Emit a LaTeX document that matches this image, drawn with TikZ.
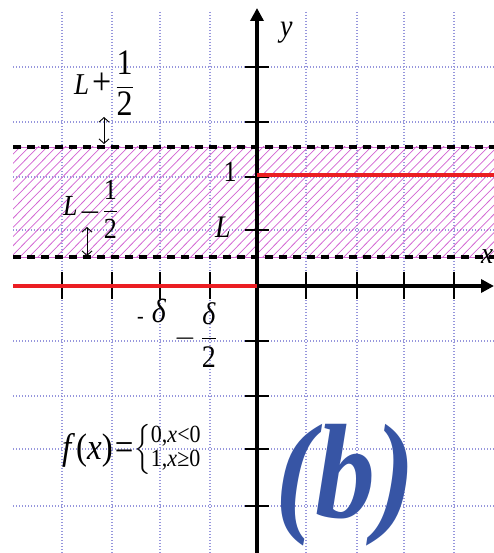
\RequirePackage{fix-cm}
\documentclass[tikz,border=0pt]{standalone}
\usepackage{amsmath}
\usepackage{graphicx}
\usepackage{fontspec}
\setmainfont{Liberation Serif}
\usetikzlibrary{arrows.meta}
\definecolor{gridc}{RGB}{150,150,220}
\definecolor{hatchc}{RGB}{210,100,210}
\definecolor{redc}{RGB}{235,30,35}
\definecolor{bluec}{RGB}{55,85,165}
\newcommand{\vs}[1]{\scalebox{1}[1.12]{#1}}
\newcommand{\fs}[1]{\fontsize{#1}{#1}\selectfont}
\newcommand{\fr}[3]{\ensuremath{\dfrac{\hbox{\fs{#1}#2}}{\hbox{\fs{#1}#3}}}}
\tikzset{
  gridline/.style={gridc, line width=1.2pt, dash pattern=on 1.3pt off 1.7pt},
  axisline/.style={black, line width=3.4pt, -{Triangle[length=13pt,width=13pt]}},
  tickline/.style={black, line width=2.2pt},
  bandline/.style={black, line width=3.3pt, dash pattern=on 8pt off 6pt},
  redline/.style={redc, line width=4pt},
  hatchline/.style={hatchc, line width=0.75pt},
  dblarrow/.style={black, line width=0.9pt, {Straight Barb[length=4.5pt,width=10pt]}-{Straight Barb[length=4.5pt,width=10pt]}},
  lbl/.style={inner sep=0pt},
}
\begin{document}
\begin{tikzpicture}[x=1pt,y=-1pt]
\useasboundingbox (0,0) rectangle (494,553);
% grid
\foreach \x in {62,112,160,210,306,357,404,454} \draw[gridline] (\x,12) -- (\x,553);
\foreach \y in {67,122,177,230,341,396,449,506} \draw[gridline] (13,\y) -- (494,\y);
% hatched band
\begin{scope}
  \clip (13,147) rectangle (494,257);
  \foreach \i in {0,...,70} \draw[hatchline] ({13+9*\i-112},259) -- ({13+9*\i},145);
\end{scope}
\draw[hatchc, line width=0.8pt] (13,147) -- (494,147) (13,257) -- (494,257);
\draw[bandline] (13,147) -- (494,147);
\draw[bandline] (13,257) -- (494,257);
% axes
\coordinate (xs) at (13,286);
\coordinate (xe) at (494,286);
\coordinate (ys) at (257,553);
\coordinate (ye) at (257,8);
\draw[axisline] (xs) -- (xe);
\draw[axisline] (ys) -- (ye);
\foreach \x in {62,112,160,210,306,357,404,454} \draw[tickline] (\x,272) -- (\x,299);
\foreach \y in {67,122,177,230,341,396,449,506} \draw[tickline] (245,\y) -- (269,\y);
% function
\draw[redline] (257,175) -- (494,175);
\draw[redline] (13,286) -- (257,286);
% labels
\node[lbl, anchor=base west] (ylab) at (280,37) {\vs{\fs{28}\itshape y}};
\node[lbl, anchor=base west] (xlab) at (481,263) {\vs{\fs{27}\itshape x}};
\node[lbl] (one) at (230,172) {\vs{\fs{26}1}};
\node[lbl] (Llab) at (223,227) {\vs{\fs{28}\itshape L}};
\node[lbl, anchor=base west] (Lp) at (74,95) {\vs{\fs{27}\textit{L}\hspace{3pt}{\fs{34}+}\hspace{4pt}\fr{32}{1}{2}}};
\node[lbl, anchor=base west] (Lm) at (63,219) {\vs{\fs{26}\raisebox{3pt}{\textit{L}}\,\scalebox{1.25}[1]{–}\,\fr{26}{1}{2}}};
\coordinate (a1t) at (104,117);
\coordinate (a1b) at (104,144);
\coordinate (a2t) at (87,227);
\coordinate (a2b) at (87,256);
\draw[dblarrow] (a1t) -- (a1b);
\draw[dblarrow] (a2t) -- (a2b);
\node[lbl, anchor=base west] (md) at (137,322) {\vs{\fs{20}\raisebox{-1.5pt}{-}\hspace{8pt}\fs{30}\textit{δ}}};
\node[lbl, anchor=base west] (md2) at (174,346) {\vs{\fs{28}$-\,\dfrac{\hbox{\itshape δ}}{\hbox{2}}$}};
\node[lbl, anchor=base west] (fx) at (62,459) {\vs{\fs{33}\textit{f}\kern1pt(\textit{x})\kern2pt=\kern1pt$\left\{\vcenter{\hbox{\fontsize{22}{21}\selectfont\begin{tabular}{@{}l@{}}0,\textit{x}<0\\1,\textit{x}≥0\end{tabular}}}\right.$}};
\node[lbl, text=bluec] (blab) at (345,485) {\vs{\fs{120}\bfseries\itshape (b)}};
\end{tikzpicture}
\end{document}
